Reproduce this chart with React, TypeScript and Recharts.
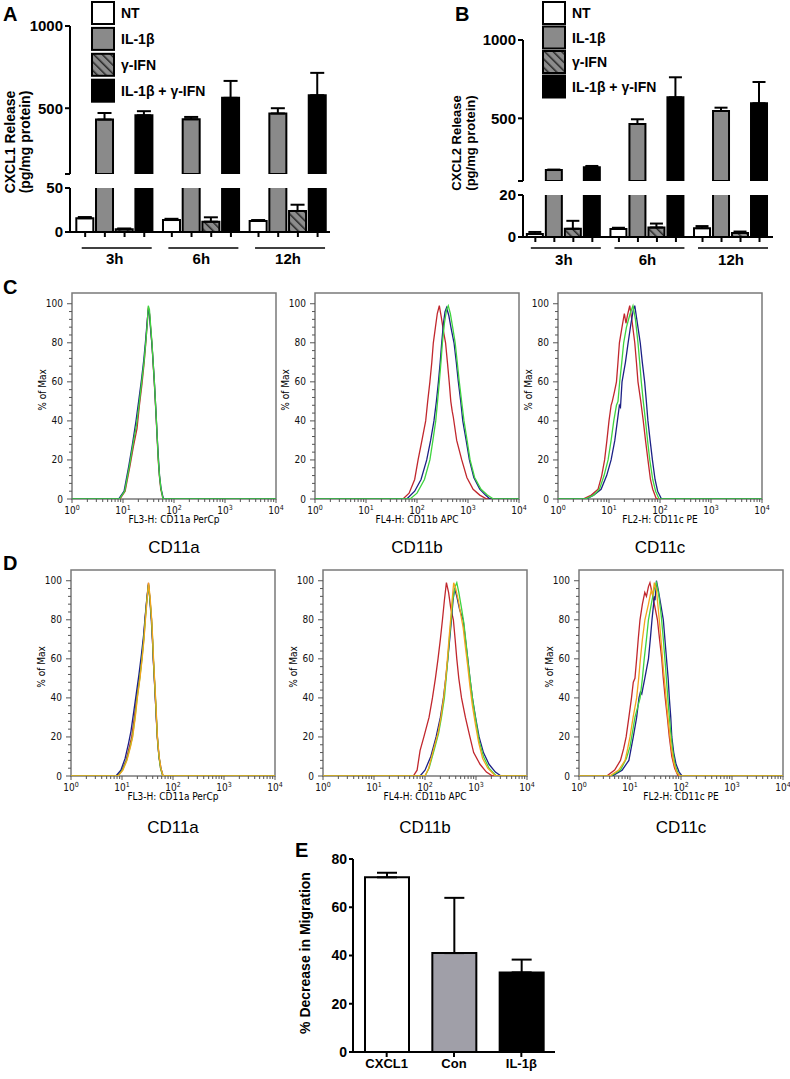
import React from 'react';
import { BarChart, Bar, XAxis, YAxis, ErrorBar, Cell, LineChart, Line, ReferenceArea } from 'recharts';

const FONT = '"Liberation Sans", Arial, Helvetica, sans-serif';
const NARROW = '"Liberation Sans Narrow", "Arial Narrow", "DejaVu Sans Condensed", "Liberation Sans", sans-serif';

// ---------- A / B : chemokine release ----------
const timepoints = ['3h', '6h', '12h'];
const treatments = ['NT', 'IL-1β', 'γ-IFN', 'IL-1β + γ-IFN'];
// rows = timepoints, columns = treatments
const cxcl1Mean = [[15.6, 431, 3, 457], [13.6, 433, 11.7, 563], [12.5, 468, 23.9, 579]];
const cxcl1Sem = [[1.4, 40, 1, 25], [1.4, 14, 5, 103], [1.1, 32, 7.1, 136]];
const cxcl2Mean = [[1.4, 170, 3.9, 187], [3.8, 464, 4.5, 634], [4.2, 547, 1.9, 596]];
const cxcl2Sem = [[1.0, 3, 3.8, 9], [0.6, 30, 1.9, 128], [1.0, 21, 0.7, 136]];
const upperTicks = [100, 500, 1000];
const cxcl1LowerTicks = [0, 50];
const cxcl2LowerTicks = [0, 20];

// ---------- E : migration ----------
const migrationGroups = ['CXCL1', 'Con', 'IL-1β'];
const migrationMean = [72.4, 41, 33];
const migrationSem = [1.9, 22.9, 5.3];
const migrationTicks = [0, 20, 40, 60, 80];
const migrationFills = ['#ffffff', '#a09fa8', '#000000'];

// ---------- C / D : flow histograms ----------
const logMajor = [1, 10, 100, 1000, 10000];
const logTicks = [...logMajor.slice(0, 4).flatMap((d) => [1, 2, 3, 4, 5, 6, 7, 8, 9].map((m) => m * d)), 10000];
const pctLabels = [0, 20, 40, 60, 80, 100];
const pctTicks = [0, 4, 8, 12, 16, 20, 24, 28, 32, 36, 40, 44, 48, 52, 56, 60, 64, 68, 72, 76, 80, 84, 88, 92, 96, 100];

const RED = '#c1272d';
const BLUE = '#1c2086';
const GREEN = '#3fd43f';
const ORANGE = '#f3a51d';

// [intensity, % of max]
const cAred = [[1, 0], [8.7, 0], [11, 4], [13.7, 17], [16, 27], [18.8, 36], [21, 48], [23.6, 59], [26, 70], [28, 80], [30, 91], [31.3, 98], [33, 95], [35, 87], [37, 79], [39, 69], [41, 60], [43, 50], [45, 40], [47, 30], [49, 20], [52, 11], [55, 5], [61, 0], [10000, 0]];
const cAblue = [[1, 0], [8.2, 0], [10.5, 4], [13, 17], [15.3, 28], [18, 40], [20.5, 51], [23, 61], [25.5, 71], [27.7, 81], [29.8, 91], [31.3, 97], [33, 95], [35, 86], [37, 79], [39, 70], [41, 61], [43, 51], [45, 41], [47, 31], [49.5, 21], [52, 12], [56, 5], [62, 0], [10000, 0]];
const cAgreen = [[1, 0], [8.5, 0], [10.8, 4], [13.4, 17], [15.7, 28], [18.4, 38], [20.8, 49], [23.3, 60], [25.8, 70], [27.9, 80], [30, 90], [31.3, 99], [33, 97], [35, 88], [37, 80], [39, 70], [41, 61], [43, 51], [45, 41], [47, 31], [49, 21], [52, 12], [55, 6], [61, 0], [10000, 0]];

const cBred = [[1, 0], [53, 0], [70, 3], [90, 10], [105, 20], [125, 30], [148, 40], [162, 50], [179, 60], [195, 70], [209, 80], [230, 88], [250, 95], [274, 99], [300, 93], [330, 86], [363, 80], [395, 70], [428, 60], [460, 50], [490, 45], [515, 42], [600, 30], [754, 20], [950, 11], [1260, 5], [1700, 2], [2330, 0], [10000, 0]];
const cBblue = [[1, 0], [63, 0], [90, 4], [120, 10], [155, 20], [185, 30], [215, 40], [240, 50], [263, 60], [285, 70], [305, 80], [330, 90], [355, 96], [380, 98], [420, 94], [470, 87], [532, 80], [590, 70], [647, 60], [720, 50], [790, 40], [920, 30], [1065, 20], [1300, 11], [1700, 5], [2200, 2], [2700, 0], [10000, 0]];
const cBgreen = [[1, 0], [73, 0], [100, 3], [140, 10], [179, 20], [205, 30], [233, 40], [253, 50], [274, 60], [295, 70], [315, 80], [345, 90], [380, 97], [410, 99], [450, 95], [500, 88], [560, 80], [615, 70], [675, 60], [750, 50], [835, 40], [960, 30], [1100, 20], [1350, 11], [1800, 5], [2400, 2], [3150, 0], [10000, 0]];

const cCred = [[1, 0], [3.1, 0], [4.5, 2], [6.1, 5], [7.2, 12], [8.2, 20], [9.1, 30], [10, 40], [11, 48], [11.6, 50], [12.8, 55], [14, 60], [15, 70], [16, 80], [18, 88], [20, 95], [21.5, 90], [23, 94], [25.5, 99], [28, 92], [32, 80], [34.5, 70], [37, 60], [42, 50], [47, 40], [52, 30], [58, 20], [65, 10], [72, 5], [85, 0], [10000, 0]];
const cCblue = [[1, 0], [3.6, 0], [5, 2], [7, 5], [9, 12], [11, 20], [13, 30], [14.6, 40], [16, 48], [16.8, 47], [18, 60], [21, 70], [23.7, 80], [27, 90], [30, 97], [32, 99], [36, 90], [41, 80], [45, 70], [50, 60], [54, 50], [58, 40], [64, 30], [71, 20], [80, 10], [90, 4], [107, 0], [10000, 0]];
const cCgreen = [[1, 0], [3.4, 0], [5, 2], [6.5, 5], [8, 12], [9.6, 20], [11, 30], [12.4, 40], [14, 48], [15, 50], [16.2, 60], [17.8, 70], [19.4, 80], [22, 88], [26, 95], [29.5, 99], [33, 92], [37, 80], [40, 70], [43, 60], [47, 50], [52, 40], [57, 30], [63, 20], [72, 10], [82, 4], [96, 0], [10000, 0]];

const dAred = [[1, 0], [8, 0], [10, 3], [12, 8], [14, 15], [15.5, 20], [17.5, 30], [19.4, 40], [22, 50], [24.3, 60], [26.5, 70], [28.3, 80], [30.5, 90], [33, 99], [35, 92], [38, 80], [39.5, 70], [41, 60], [43, 50], [45, 40], [47, 30], [49, 20], [53, 10], [57, 4], [63, 0], [10000, 0]];
const dAblue = [[1, 0], [7.6, 0], [9.5, 3], [11.5, 9], [13.5, 17], [15, 23], [17, 33], [19, 42], [21.5, 52], [24, 62], [26.5, 72], [28.3, 81], [30.5, 90], [33, 98], [35, 91], [37.5, 80], [39.5, 70], [41, 60], [43, 50], [45, 40], [47, 30], [49.5, 20], [53, 10], [58, 4], [64, 0], [10000, 0]];
const dAgreen = [[1, 0], [8.3, 0], [10.2, 3], [12.3, 8], [14.5, 15], [16, 20], [18, 30], [19.8, 40], [22.3, 50], [24.6, 60], [26.8, 70], [28.6, 80], [30.7, 90], [33, 98], [35.5, 90], [38, 80], [39.8, 70], [41.3, 60], [43.2, 50], [45.3, 40], [47.3, 30], [49.3, 20], [53, 10], [57, 4], [63, 0], [10000, 0]];
const dAorange = [[1, 0], [8.4, 0], [10.4, 3], [12.5, 8], [14.7, 15], [16.2, 20], [18.2, 30], [20, 40], [22.5, 50], [24.8, 60], [27, 70], [28.8, 80], [31, 90], [33.2, 99], [35.7, 91], [38.2, 80], [40, 70], [41.5, 60], [43.4, 50], [45.5, 40], [47.5, 30], [49.5, 20], [53.5, 10], [58, 4], [64, 0], [10000, 0]];

const dBred = [[1, 0], [59, 0], [70, 3], [80, 13], [95, 20], [120, 30], [140, 40], [160, 50], [180, 60], [200, 70], [220, 80], [240, 90], [263, 99], [290, 94], [320, 86], [360, 80], [390, 70], [420, 60], [460, 50], [520, 40], [620, 30], [760, 20], [900, 12], [1200, 6], [1600, 2], [2100, 0], [10000, 0]];
const dBblue = [[1, 0], [80, 0], [100, 3], [130, 10], [165, 20], [200, 30], [230, 40], [255, 50], [280, 60], [305, 70], [330, 80], [355, 90], [380, 96], [420, 92], [480, 85], [560, 80], [620, 70], [690, 60], [760, 50], [850, 40], [980, 30], [1150, 20], [1400, 12], [1800, 6], [2400, 2], [3100, 0], [10000, 0]];
const dBgreen = [[1, 0], [100, 0], [120, 4], [150, 13], [185, 22], [210, 30], [240, 40], [260, 50], [280, 60], [300, 70], [325, 80], [350, 90], [390, 97], [420, 99], [460, 94], [520, 86], [580, 78], [640, 68], [700, 58], [780, 48], [870, 38], [1000, 28], [1150, 18], [1400, 10], [1800, 4], [2500, 0], [10000, 0]];
const dBorange = [[1, 0], [100, 0], [118, 4], [145, 13], [180, 22], [205, 30], [232, 40], [255, 50], [275, 60], [295, 70], [318, 80], [340, 90], [365, 99], [400, 96], [450, 90], [500, 83], [560, 76], [620, 66], [690, 56], [760, 46], [850, 36], [980, 26], [1130, 17], [1350, 9], [1700, 4], [2400, 0], [10000, 0]];

const dCred = [[1, 0], [3.5, 0], [5, 3], [6.5, 8], [7.5, 14], [8.4, 20], [9.5, 30], [10.7, 40], [11.6, 48], [12.5, 50], [13.5, 60], [14.5, 70], [15.7, 80], [17.5, 88], [19.5, 94], [21, 92], [23, 97], [24.6, 99], [27, 94], [30, 88], [34.5, 80], [38, 70], [42, 60], [45, 50], [49, 40], [54, 30], [59, 20], [66, 10], [75, 4], [88, 0], [10000, 0]];
const dCblue = [[1, 0], [4.5, 0], [7, 3], [9.5, 8], [11.6, 20], [13.5, 30], [15, 40], [16, 43], [17, 42], [19.5, 50], [23, 60], [25, 70], [27, 80], [29, 88], [30, 92], [31, 90], [33, 100], [36, 95], [40, 88], [45, 80], [52, 60], [56, 50], [59, 40], [63, 30], [66, 20], [72, 12], [80, 6], [92, 2], [105, 0], [10000, 0]];
const dCgreen = [[1, 0], [4.2, 0], [6.5, 3], [8.5, 9], [10, 15], [10.8, 20], [12.5, 30], [15.8, 40], [17.5, 50], [19, 60], [21, 70], [23, 80], [27, 90], [30, 96], [33, 99], [37, 92], [41, 82], [45, 70], [49, 58], [53, 46], [57, 35], [62, 24], [68, 14], [76, 6], [88, 1], [100, 0], [10000, 0]];
const dCorange = [[1, 0], [4, 0], [6, 3], [8, 8], [9, 14], [10, 20], [11.5, 30], [13.5, 40], [14.8, 50], [16, 60], [17.5, 70], [19.6, 80], [23, 88], [26, 95], [28, 93], [30, 99], [33, 95], [36, 85], [39, 75], [42, 65], [45, 55], [49, 45], [53, 35], [58, 25], [64, 15], [72, 7], [82, 2], [95, 0], [10000, 0]];

const histC = [
  { left: 72, top: 293, xTitle: 'FL3-H: CD11a PerCp', title: 'CD11a', curves: [[RED, cAred], [BLUE, cAblue], [GREEN, cAgreen]] },
  { left: 315, top: 293, xTitle: 'FL4-H: CD11b APC', title: 'CD11b', curves: [[RED, cBred], [BLUE, cBblue], [GREEN, cBgreen]] },
  { left: 558, top: 293, xTitle: 'FL2-H: CD11c PE', title: 'CD11c', curves: [[RED, cCred], [BLUE, cCblue], [GREEN, cCgreen]] },
];
const histD = [
  { left: 71, top: 570, xTitle: 'FL3-H: CD11a PerCp', title: 'CD11a', curves: [[RED, dAred], [BLUE, dAblue], [GREEN, dAgreen], [ORANGE, dAorange]] },
  { left: 323, top: 570, xTitle: 'FL4-H: CD11b APC', title: 'CD11b', curves: [[RED, dBred], [BLUE, dBblue], [GREEN, dBgreen], [ORANGE, dBorange]] },
  { left: 579, top: 570, xTitle: 'FL2-H: CD11c PE', title: 'CD11c', curves: [[RED, dCred], [BLUE, dCblue], [GREEN, dCgreen], [ORANGE, dCorange]] },
];

const GROUP_STEP = 4.4;
const HIST_W = 204;
const HIST_H = 206;
const HIST_YW = 45;
const HIST_XH = 25;
const HIST_RM = 12;
const HIST_MAX = 105.5;

const pts = (a: number[][]) => a.map(([x, y]) => ({ x, y }));

const hatch = (id: string) => (
  <pattern id={id} width={6} height={6} patternUnits="userSpaceOnUse" patternTransform="rotate(-45)">
    <rect width={6} height={6} fill="#8c8c8c" />
    <line x1={0} y1={0} x2={0} y2={6} stroke="#262626" strokeWidth={3} />
  </pattern>
);
const treatmentFills = (id: string) => ['#ffffff', '#8a8a8a', `url(#${id})`, '#000000'];

const axisStyle = { stroke: '#000', strokeWidth: 2 };
const boldTick = (size: number) => ({ fill: '#000', fontSize: size, fontWeight: 'bold', fontFamily: FONT });

function BarLegend({ id, left, top, step }: { id: string; left: number; top: number; step: number }) {
  const fills = treatmentFills(id);
  return (
    <div style={{ position: 'absolute', left, top }}>
      <svg width={200} height={step * 4}>
        <defs>{hatch(id)}</defs>
        {treatments.map((t, i) => (
          <g key={t} transform={`translate(0, ${i * step})`}>
            <rect x={1} y={1} width={22} height={22} fill={fills[i]} stroke="#000" strokeWidth={2} />
            <text x={30} y={17} fontSize={14} fontWeight="bold" fontFamily={FONT}>{t}</text>
          </g>
        ))}
      </svg>
    </div>
  );
}

type ReleaseProps = {
  id: string;
  left: number;
  width: number;
  mean: number[][];
  sem: number[][];
  xDomain: [number, number];
  barSize: number;
  capHalf: number;
  upperPlotTop: number;
  upperPlotBottom: number;
  lowerPlotTop: number;
  lowerPlotBottom: number;
  lowerTicks: number[];
  lineDy: number;
  labelDy: number;
};

function ReleasePanel(p: ReleaseProps) {
  const fills = treatmentFills(p.id);
  const lowerMax = p.lowerTicks[p.lowerTicks.length - 1];
  const rows = timepoints.flatMap((_, g) =>
    treatments.map((__, i) => {
      const v = p.mean[g][i];
      const e = p.sem[g][i];
      const inUpper = v >= upperTicks[0];
      return {
        x: g * GROUP_STEP + i,
        t: i,
        up: inUpper ? v : null,
        upErr: inUpper ? [0, e] : null,
        lo: v,
        loErr: v < lowerMax ? [0, e] : null,
      };
    })
  );
  const groupAt = new Map<number, string>(timepoints.map((tp, g) => [g * GROUP_STEP + 1.5, tp]));
  const ticks = [...rows.map((r) => r.x), ...groupAt.keys()].sort((a, b) => a - b);
  const upperH = p.upperPlotBottom + 6;
  const lowerH = p.lowerPlotBottom - upperH + 38;

  const renderTick = (props: any) => {
    const { x, y, payload } = props;
    const label = groupAt.get(payload.value);
    if (label) {
      return (
        <g>
          <line x1={x - 33} x2={x + 37} y1={y + p.lineDy} y2={y + p.lineDy} stroke="#000" strokeWidth={1.5} />
          <text x={x} y={y + p.labelDy} textAnchor="middle" fontSize={15} fontWeight="bold" fontFamily={FONT}>{label}</text>
        </g>
      );
    }
    return <line x1={x} x2={x} y1={y} y2={y + 5} stroke="#000" strokeWidth={2} />;
  };

  return (
    <>
      <div style={{ position: 'absolute', left: p.left, top: 0 }}>
        <BarChart width={p.width} height={upperH} data={rows} margin={{ top: p.upperPlotTop, right: 10, bottom: 6, left: 0 }}>
          <defs>{hatch(p.id)}</defs>
          <XAxis type="number" dataKey="x" domain={p.xDomain} allowDataOverflow hide />
          <YAxis
            type="number"
            domain={[upperTicks[0], upperTicks[upperTicks.length - 1]]}
            ticks={upperTicks}
            interval={0}
            allowDataOverflow
            width={70}
            axisLine={axisStyle}
            tickLine={axisStyle}
            tickSize={5}
            tickMargin={2}
            tick={boldTick(15)}
            tickFormatter={(v: number) => (v === upperTicks[0] ? '' : String(v))}
          />
          <Bar dataKey="up" barSize={p.barSize} stroke="#000" strokeWidth={2} isAnimationActive={false}>
            {rows.map((r) => <Cell key={r.x} fill={fills[r.t]} />)}
            <ErrorBar dataKey="upErr" width={p.capHalf} stroke="#000" strokeWidth={2} direction="y" />
          </Bar>
        </BarChart>
      </div>
      <div style={{ position: 'absolute', left: p.left, top: upperH }}>
        <BarChart width={p.width} height={lowerH} data={rows} margin={{ top: p.lowerPlotTop - upperH, right: 10, bottom: 0, left: 0 }}>
          <defs>{hatch(p.id + 'L')}</defs>
          <XAxis
            type="number"
            dataKey="x"
            domain={p.xDomain}
            allowDataOverflow
            ticks={ticks}
            interval={0}
            height={38}
            axisLine={axisStyle}
            tickLine={false}
            tickSize={0}
            tickMargin={0}
            tick={renderTick}
          />
          <YAxis
            type="number"
            domain={[0, lowerMax]}
            ticks={p.lowerTicks}
            interval={0}
            allowDataOverflow
            width={70}
            axisLine={axisStyle}
            tickLine={axisStyle}
            tickSize={5}
            tickMargin={2}
            tick={boldTick(15)}
          />
          <Bar dataKey="lo" barSize={p.barSize} stroke="#000" strokeWidth={2} isAnimationActive={false}>
            {rows.map((r) => <Cell key={r.x} fill={r.t === 2 ? `url(#${p.id}L)` : fills[r.t]} />)}
            <ErrorBar dataKey="loErr" width={p.capHalf} stroke="#000" strokeWidth={2} direction="y" />
          </Bar>
        </BarChart>
      </div>
    </>
  );
}

const LogTick = (props: any) => {
  const { x, y, payload } = props;
  const v = payload.value;
  const major = logMajor.includes(v);
  return (
    <g>
      <line x1={x} x2={x} y1={y} y2={y + (major ? 4 : 3)} stroke="#555" strokeWidth={1} />
      {major && (
        <text x={x} y={y + 15} textAnchor="middle" fontSize={10} fontFamily={NARROW} fill="#111">
          10<tspan dy={-4} fontSize={7}>{logMajor.indexOf(v)}</tspan>
        </text>
      )}
    </g>
  );
};

const PctTick = (props: any) => {
  const { x, y, payload } = props;
  const v = payload.value;
  const major = pctLabels.includes(v);
  return (
    <g>
      <line x1={x - (major ? 5 : 3)} x2={x} y1={y} y2={y} stroke="#555" strokeWidth={1} />
      {major && (
        <text x={x - 9} y={y + 3.5} textAnchor="end" fontSize={10} fontFamily={NARROW} fill="#111">{v}</text>
      )}
    </g>
  );
};

function Histogram({ left, top, curves }: { left: number; top: number; curves: any[] }) {
  return (
    <div style={{ position: 'absolute', left: left - HIST_YW, top: top - 2 }}>
      <LineChart width={HIST_YW + HIST_W + HIST_RM} height={2 + HIST_H + HIST_XH} margin={{ top: 2, right: HIST_RM, bottom: 0, left: 0 }}>
        <XAxis
          type="number"
          dataKey="x"
          scale="log"
          domain={[1, 10000]}
          allowDataOverflow
          ticks={logTicks}
          interval={0}
          height={HIST_XH}
          axisLine={false}
          tickLine={false}
          tickSize={0}
          tickMargin={0}
          tick={LogTick}
        />
        <YAxis
          type="number"
          domain={[0, HIST_MAX]}
          allowDataOverflow
          ticks={pctTicks}
          interval={0}
          width={HIST_YW}
          axisLine={false}
          tickLine={false}
          tickSize={0}
          tickMargin={0}
          tick={PctTick}
        />
        <ReferenceArea x1={1} x2={10000} y1={0} y2={HIST_MAX} fill="none" stroke="#7a7a7a" strokeWidth={1.5} />
        {curves.map(([color, data]: [string, number[][]], i: number) => (
          <Line
            key={i}
            data={pts(data)}
            dataKey="y"
            type="linear"
            stroke={color}
            strokeWidth={1.3}
            dot={false}
            activeDot={false}
            isAnimationActive={false}
          />
        ))}
      </LineChart>
    </div>
  );
}

function MigrationPanel() {
  const rows = migrationGroups.map((name, i) => ({ name, v: migrationMean[i], err: [0, migrationSem[i]] }));
  return (
    <div style={{ position: 'absolute', left: 293, top: 840 }}>
      <BarChart width={267} height={237} data={rows} margin={{ top: 19, right: 5, bottom: 0, left: 0 }}>
        <XAxis
          dataKey="name"
          height={25}
          interval={0}
          axisLine={axisStyle}
          tickLine={axisStyle}
          tickSize={5}
          tickMargin={2}
          tick={boldTick(13)}
        />
        <YAxis
          type="number"
          domain={[0, 80]}
          ticks={migrationTicks}
          interval={0}
          width={60}
          axisLine={axisStyle}
          tickLine={axisStyle}
          tickSize={4}
          tickMargin={2}
          tick={boldTick(14)}
        />
        <Bar dataKey="v" barSize={44} stroke="#000" strokeWidth={2} isAnimationActive={false}>
          {rows.map((r, i) => <Cell key={r.name} fill={migrationFills[i]} />)}
          <ErrorBar dataKey="err" width={10} stroke="#000" strokeWidth={2} direction="y" />
        </Bar>
      </BarChart>
    </div>
  );
}

const RotText = ({ x, y, size, children, family = FONT, bold = true }: any) => (
  <text
    x={x}
    y={y}
    transform={`rotate(-90 ${x} ${y})`}
    textAnchor="middle"
    dominantBaseline="central"
    fontSize={size}
    fontWeight={bold ? 'bold' : 'normal'}
    fontFamily={family}
  >
    {children}
  </text>
);

const panelLetters = [
  { t: 'A', x: 3, y: 21 },
  { t: 'B', x: 455, y: 21 },
  { t: 'C', x: 3, y: 294 },
  { t: 'D', x: 3, y: 570 },
  { t: 'E', x: 295, y: 857 },
];

function Overlay() {
  const hists = [...histC.map((h) => ({ ...h, titleDy: 54 })), ...histD.map((h) => ({ ...h, titleDy: 57 }))];
  return (
    <svg width={790} height={1079} style={{ position: 'absolute', left: 0, top: 0, pointerEvents: 'none' }}>
      {panelLetters.map((l) => (
        <text key={l.t} x={l.x} y={l.y} fontSize={20} fontWeight="bold" fontFamily={FONT}>{l.t}</text>
      ))}
      <RotText x={9.5} y={142} size={14}>CXCL1 Release</RotText>
      <RotText x={24.5} y={142} size={14}>(pg/mg protein)</RotText>
      <RotText x={456} y={143} size={13}>CXCL2 Release</RotText>
      <RotText x={470} y={143} size={13}>(pg/mg protein)</RotText>
      <RotText x={305} y={953} size={14}>% Decrease in Migration</RotText>
      {hists.map((h, i) => (
        <g key={i}>
          <RotText x={h.left - 30} y={h.top + 97} size={10} family={NARROW} bold={false}>% of Max</RotText>
          <text x={h.left + HIST_W / 2} y={h.top + HIST_H + 24} textAnchor="middle" fontSize={10} fontFamily={NARROW}>{h.xTitle}</text>
          <text x={h.left + HIST_W / 2} y={h.top + HIST_H + h.titleDy} textAnchor="middle" fontSize={17} fontFamily={FONT}>{h.title}</text>
        </g>
      ))}
    </svg>
  );
}

export default function App() {
  return (
    <div style={{ position: 'absolute', left: 0, top: 0, width: 790, height: 1079, background: '#fff', fontFamily: FONT, overflow: 'hidden' }}>
      <ReleasePanel
        id="hatchA"
        left={0}
        width={340}
        mean={cxcl1Mean}
        sem={cxcl1Sem}
        xDomain={[-0.77, 12.43]}
        barSize={17}
        capHalf={7}
        upperPlotTop={26}
        upperPlotBottom={174}
        lowerPlotTop={188}
        lowerPlotBottom={232}
        lowerTicks={cxcl1LowerTicks}
        lineDy={16}
        labelDy={32}
      />
      <ReleasePanel
        id="hatchB"
        left={453}
        width={330}
        mean={cxcl2Mean}
        sem={cxcl2Sem}
        xDomain={[-0.65, 12.51]}
        barSize={16}
        capHalf={6.5}
        upperPlotTop={40}
        upperPlotBottom={181}
        lowerPlotTop={195}
        lowerPlotBottom={237}
        lowerTicks={cxcl2LowerTicks}
        lineDy={11}
        labelDy={28}
      />
      <BarLegend id="hatchLegA" left={91} top={1} step={25.9} />
      <BarLegend id="hatchLegB" left={542} top={1} step={24.5} />
      {histC.map((h) => <Histogram key={h.title + 'C'} left={h.left} top={h.top} curves={h.curves} />)}
      {histD.map((h) => <Histogram key={h.title + 'D'} left={h.left} top={h.top} curves={h.curves} />)}
      <MigrationPanel />
      <Overlay />
    </div>
  );
}
